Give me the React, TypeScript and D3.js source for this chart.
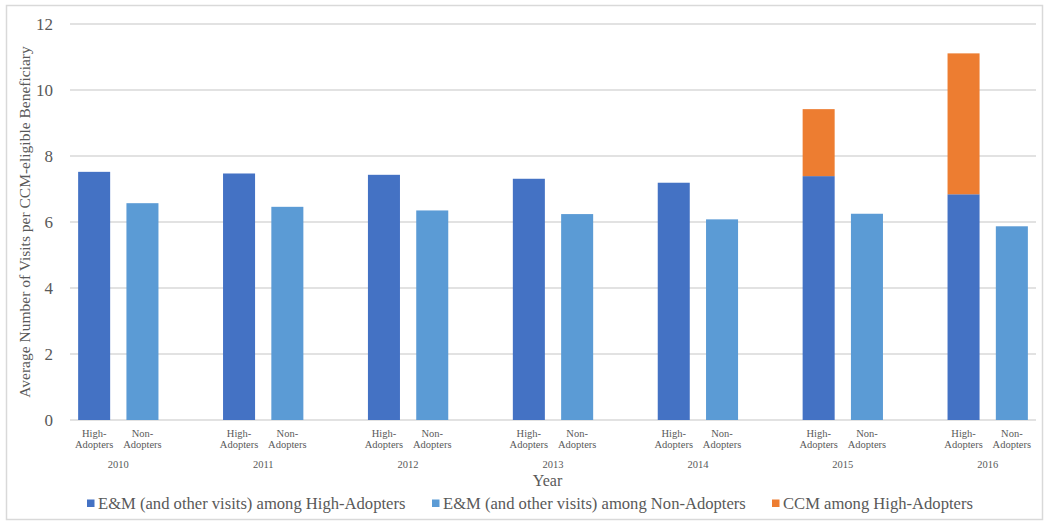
import React from "react";
import * as d3 from "d3";

const years = ["2010", "2011", "2012", "2013", "2014", "2015", "2016"];
const groupLabels = [["High-", "Adopters"], ["Non-", "Adopters"]];
const emHigh = [7.52, 7.47, 7.43, 7.31, 7.19, 7.39, 6.84];
const emNon = [6.57, 6.46, 6.35, 6.24, 6.08, 6.25, 5.87];
const ccmHigh = [0, 0, 0, 0, 0, 2.03, 4.27];
const yTicks = [0, 2, 4, 6, 8, 10, 12];
const legendItems = [
  "E&M (and other visits) among High-Adopters",
  "E&M (and other visits) among Non-Adopters",
  "CCM among High-Adopters",
];

const W = 1050;
const H = 526;
const FONT = "Liberation Serif, Tinos, Times New Roman, DejaVu Serif, serif";
const TXT = "#595959";
const GRID = "#d9d9d9";
const C_HIGH = "#4472C4";
const C_NON = "#5B9BD5";
const C_CCM = "#ED7D31";

export default function App() {
  const slots: string[] = [];
  years.forEach((y, i) => {
    slots.push(`${y}-H`, `${y}-N`);
    if (i < years.length - 1) slots.push(`${y}-gap`);
  });
  const pad = 0.337;
  const x = d3
    .scaleBand<string>()
    .domain(slots)
    .range([70, 1036])
    .paddingInner(pad)
    .paddingOuter(pad / 2);
  const y = d3.scaleLinear().domain([0, 12]).range([420, 24]);
  const bw = x.bandwidth();

  const legendX = [
    { m: 87, t: 98 },
    { m: 432, t: 443 },
    { m: 772, t: 783 },
  ];
  const legendColors = [C_HIGH, C_NON, C_CCM];
  const ts = { fontFamily: FONT };

  return (
    <svg
      width={W}
      height={H}
      style={{ position: "absolute", left: 0, top: 0, background: "#fff", fontFamily: FONT }}
    >
      <rect x={6.5} y={5.5} width={1036} height={514} fill="#fff" stroke={GRID} strokeWidth={1.5} />
      {yTicks.map((t) => (
        <g key={t}>
          <line x1={70} x2={1036} y1={y(t)} y2={y(t)} stroke={GRID} strokeWidth={1.5} />
          <text x={53} y={y(t)} dy="0.35em" textAnchor="end" fontSize={17} fill={TXT} style={ts}>
            {t}
          </text>
        </g>
      ))}
      {years.map((yr, i) => {
        const xh = x(`${yr}-H`)!;
        const xn = x(`${yr}-N`)!;
        return (
          <g key={yr}>
            <rect x={xh} width={bw} y={y(emHigh[i])} height={y(0) - y(emHigh[i])} fill={C_HIGH} />
            {ccmHigh[i] > 0 && (
              <rect
                x={xh}
                width={bw}
                y={y(emHigh[i] + ccmHigh[i])}
                height={y(emHigh[i]) - y(emHigh[i] + ccmHigh[i])}
                fill={C_CCM}
              />
            )}
            <rect x={xn} width={bw} y={y(emNon[i])} height={y(0) - y(emNon[i])} fill={C_NON} />
            {[xh, xn].map((bx, k) => (
              <text key={k} textAnchor="middle" fontSize={10.5} fill={TXT} style={ts}>
                <tspan x={bx + bw / 2} y={437}>
                  {groupLabels[k][0]}
                </tspan>
                <tspan x={bx + bw / 2} y={448}>
                  {groupLabels[k][1]}
                </tspan>
              </text>
            ))}
            <text x={(xh + xn + bw) / 2} y={468} textAnchor="middle" fontSize={10.5} fill={TXT} style={ts}>
              {yr}
            </text>
          </g>
        );
      })}
      <text x={547.5} y={486} textAnchor="middle" fontSize={16} fill={TXT} style={ts}>
        Year
      </text>
      <text
        transform={`translate(30, ${(y(0) + y(12)) / 2}) rotate(-90)`}
        textAnchor="middle"
        fontSize={15.5}
        fill={TXT}
        style={ts}
      >
        Average Number of Visits per CCM-eligible Beneficiary
      </text>
      {legendItems.map((l, i) => (
        <g key={l}>
          <rect x={legendX[i].m} y={499.5} width={7.5} height={7.5} fill={legendColors[i]} />
          <text x={legendX[i].t} y={508.5} fontSize={16.6} fill={TXT} style={ts}>
            {l}
          </text>
        </g>
      ))}
    </svg>
  );
}
